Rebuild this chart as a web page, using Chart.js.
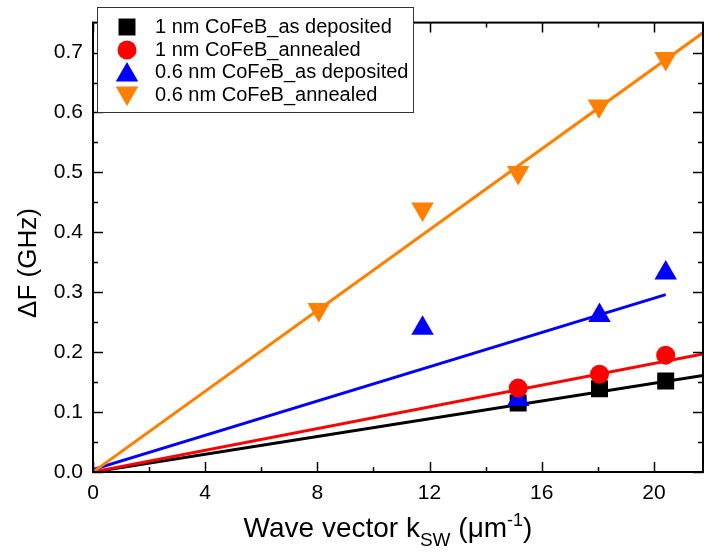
<!DOCTYPE html>
<html>
<head>
<meta charset="utf-8">
<script src="https://cdn.jsdelivr.net/npm/chart.js@4"></script>
<style>
  html, body { margin: 0; padding: 0; background: #fff; overflow: hidden; }
  canvas { display: block; }
</style>
</head>
<body>
<canvas id="chart" width="716" height="552"></canvas>
<script>
// values
const xTicks = [0, 4, 8, 12, 16, 20];
const xMinor = [2, 6, 10, 14, 18];
const yTicks = [0, 0.1, 0.2, 0.3, 0.4, 0.5, 0.6, 0.7];
const yMinor = [0.05, 0.15, 0.25, 0.35, 0.45, 0.55, 0.65];

const blackX = [15.16, 18.06, 20.42];
const blackY = [0.115, 0.139, 0.152];
const redX = [15.16, 18.06, 20.42];
const redY = [0.140, 0.163, 0.195];
const blueX = [11.75, 15.16, 18.06, 20.42];
const blueY = [0.240, 0.121, 0.261, 0.332];
const orangeX = [8.05, 11.75, 15.16, 18.04, 20.42];
const orangeY = [0.271, 0.439, 0.500, 0.611, 0.690];

// fitted lines: [start, end]
const fitBlackX = [0, 21.75], fitBlackY = [0, 0.161];
const fitRedX = [0, 21.75], fitRedY = [0, 0.197];
const fitBlueX = [0, 20.42], fitBlueY = [0.004, 0.296];
const fitOrangeX = [0, 21.75], fitOrangeY = [0, 0.733];

const labels = [
  "1 nm CoFeB_as deposited",
  "1 nm CoFeB_annealed",
  "0.6 nm CoFeB_as deposited",
  "0.6 nm CoFeB_annealed",
];

const FONT = '"Liberation Sans", Arial, sans-serif';
const BLACK = "#000000", RED = "#ff0000", BLUE = "#0000ff", ORANGE = "#ff8000";

const pts = (xs, ys) => xs.map((x, i) => ({ x, y: ys[i] }));

const markers = [
  { color: BLACK, style: "rect", radius: 12, rotation: 0 },
  { color: RED, style: "circle", radius: 9.5, rotation: 0 },
  { color: BLUE, style: "triangle", radius: 13, rotation: 0 },
  { color: ORANGE, style: "triangle", radius: 13, rotation: 180 },
];

function fit(xs, ys, color, order) {
  return {
    data: pts(xs, ys),
    showLine: true,
    borderColor: color,
    borderWidth: 3,
    pointRadius: 0,
    order,
  };
}
function scatter(xs, ys, i, order) {
  const m = markers[i];
  return {
    data: pts(xs, ys),
    showLine: false,
    backgroundColor: m.color,
    borderWidth: 0,
    pointStyle: m.style,
    pointRadius: m.radius,
    pointRotation: m.rotation,
    order,
  };
}

// frame, inward ticks, axis titles and the boxed legend
const decorations = {
  id: "decorations",
  afterDatasetsDraw(chart) {
    const { ctx, chartArea: a, scales } = chart;
    const x = scales.x, y = scales.y;
    ctx.save();
    ctx.strokeStyle = "#000";
    ctx.lineWidth = 2;
    ctx.strokeRect(a.left, a.top, a.right - a.left, a.bottom - a.top);
    ctx.lineWidth = 1.5;
    ctx.beginPath();
    const xt = (v, len) => {
      const px = Math.round(x.getPixelForValue(v)) + 0.5;
      ctx.moveTo(px, a.bottom); ctx.lineTo(px, a.bottom - len);
      ctx.moveTo(px, a.top); ctx.lineTo(px, a.top + len);
    };
    const yt = (v, len) => {
      const py = Math.round(y.getPixelForValue(v)) + 0.5;
      ctx.moveTo(a.left, py); ctx.lineTo(a.left + len, py);
      ctx.moveTo(a.right, py); ctx.lineTo(a.right - len, py);
    };
    xTicks.forEach((v) => xt(v, 10));
    xMinor.forEach((v) => xt(v, 5));
    yTicks.forEach((v) => yt(v, 10));
    yMinor.forEach((v) => yt(v, 5));
    ctx.stroke();

    // y title
    ctx.fillStyle = "#000";
    ctx.save();
    ctx.translate(29, 263);
    ctx.rotate(-Math.PI / 2);
    ctx.textAlign = "center";
    ctx.textBaseline = "middle";
    ctx.font = "26px " + FONT;
    ctx.fillText("\u0394F (GHz)", 0, 0);
    ctx.restore();

    // x title with sub/superscript
    const parts = [
      { t: "Wave vector k", f: 28, dy: 0 },
      { t: "SW", f: 19, dy: 9 },
      { t: " (\u03bcm", f: 28, dy: 0 },
      { t: "-1", f: 18, dy: -11 },
      { t: ")", f: 28, dy: 0 },
    ];
    ctx.textAlign = "left";
    ctx.textBaseline = "alphabetic";
    let total = 0;
    parts.forEach((p) => {
      ctx.font = p.f + "px " + FONT;
      p.w = ctx.measureText(p.t).width;
      total += p.w;
    });
    let cx = 388 - total / 2;
    parts.forEach((p) => {
      ctx.font = p.f + "px " + FONT;
      ctx.fillText(p.t, cx, 537 + p.dy);
      cx += p.w;
    });

    // legend box
    ctx.fillStyle = "#fff";
    ctx.fillRect(97, 8, 316, 104);
    ctx.strokeStyle = "#333";
    ctx.lineWidth = 1;
    ctx.strokeRect(97.5, 7.5, 316, 105);
    const rowY = [27, 50, 72, 95];
    ctx.font = "20px " + FONT;
    ctx.textBaseline = "middle";
    labels.forEach((lab, i) => {
      const m = markers[i];
      ctx.fillStyle = m.color;
      Chart.helpers.drawPoint(
        ctx,
        { pointStyle: m.style, radius: m.radius, rotation: m.rotation, borderWidth: 0 },
        127,
        rowY[i] + (m.style === "triangle" ? (m.rotation ? -2 : 3) : 0)
      );
      ctx.fillStyle = "#000";
      ctx.fillText(lab, 155, rowY[i]);
    });
    ctx.restore();
  },
};

new Chart(document.getElementById("chart"), {
  type: "scatter",
  data: {
    datasets: [
      fit(fitBlackX, fitBlackY, BLACK, 8),
      fit(fitRedX, fitRedY, RED, 7),
      fit(fitBlueX, fitBlueY, BLUE, 6),
      fit(fitOrangeX, fitOrangeY, ORANGE, 5),
      scatter(blackX, blackY, 0, 4),
      scatter(blueX, blueY, 2, 3),
      scatter(redX, redY, 1, 2),
      scatter(orangeX, orangeY, 3, 1),
    ],
  },
  options: {
    responsive: false,
    animation: false,
    events: [],
    layout: { padding: { top: 7, right: 2, left: 0, bottom: 0 } },
    plugins: { legend: { display: false }, tooltip: { enabled: false } },
    scales: {
      x: {
        type: "linear",
        min: 0,
        max: 21.75,
        grid: { display: false, drawTicks: false },
        border: { display: false },
        afterBuildTicks: (s) => { s.ticks = xTicks.map((v) => ({ value: v })); },
        afterFit: (s) => { s.height = 80; },
        ticks: {
          color: "#000",
          font: { family: FONT, size: 21 },
          padding: 9,
          maxRotation: 0,
          callback: (v) => String(v),
        },
      },
      y: {
        type: "linear",
        min: 0,
        max: 0.75,
        grid: { display: false, drawTicks: false },
        border: { display: false },
        afterBuildTicks: (s) => { s.ticks = yTicks.map((v) => ({ value: v })); },
        afterFit: (s) => { s.width = 93; },
        ticks: {
          color: "#000",
          font: { family: FONT, size: 21 },
          padding: 10,
          callback: (v) => v.toFixed(1),
        },
      },
    },
  },
  plugins: [decorations],
});
</script>
</body>
</html>
